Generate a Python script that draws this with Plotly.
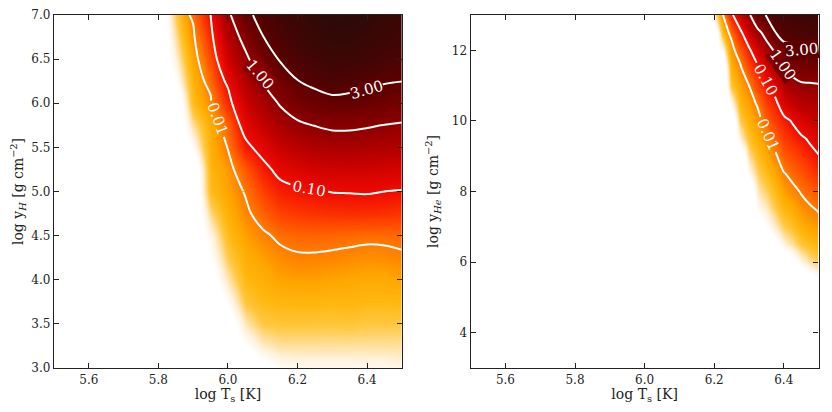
import numpy as np
import plotly.graph_objects as go

SERIF = "DejaVu Serif"

# ============================================================================
# DATA  (log10 of the mapped quantity)
# ============================================================================

LEFT_T = [5.80, 5.85, 5.90, 5.95, 6.00, 6.05, 6.10, 6.15, 6.20, 6.25, 6.30, 6.35, 6.40, 6.45, 6.50]
LEFT_Y = [3.00, 3.25, 3.50, 3.75, 4.00, 4.25, 4.50, 4.75, 5.00, 5.25, 5.50, 5.75, 6.00, 6.25, 6.50, 6.75, 7.00]
LEFT_LOGQ = [
    [-5, -5, -5, -5, -5, -5, -4.6, -4.2, -4.1, -4.1, -4.1, -4.1, -4.1, -4.1, -4.0],
    [-5, -5, -5, -5, -5, -4.3, -3.8, -3.6, -3.6, -3.6, -3.6, -3.6, -3.6, -3.6, -3.6],
    [-5, -5, -5, -5, -4.8, -3.7, -3.25, -3.2, -3.2, -3.2, -3.22, -3.2, -3.25, -3.25, -3.25],
    [-5, -5, -5, -5, -4.2, -3.2, -2.95, -2.85, -2.82, -2.82, -2.87, -2.83, -2.9, -2.9, -2.88],
    [-5, -5, -5, -4.7, -3.7, -2.9, -2.7, -2.5, -2.45, -2.45, -2.5, -2.55, -2.6, -2.6, -2.5],
    [-5, -5, -5, -4.3, -3.3, -2.7, -2.45, -2.2, -2.08, -2.08, -2.12, -2.2, -2.25, -2.22, -2.12],
    [-5, -5, -5, -4.0, -3.0, -2.45, -2.12, -1.90, -1.83, -1.815, -1.833, -1.85, -1.89, -1.88, -1.845],
    [-5, -5, -5, -3.5, -2.75, -2.15, -1.8, -1.52, -1.43, -1.38, -1.35, -1.34, -1.33, -1.36, -1.4],
    [-5, -5, -5, -3.0, -2.5, -1.96, -1.5, -1.2, -1.1, -1.03, -0.99, -0.98, -0.97, -1.0, -1.03],
    [-5, -5, -5, -2.85, -2.35, -1.68, -1.17, -0.88, -0.77, -0.68, -0.64, -0.63, -0.64, -0.67, -0.7],
    [-5, -5, -4.2, -2.7, -1.98, -1.13, -0.86, -0.58, -0.43, -0.33, -0.29, -0.29, -0.31, -0.34, -0.37],
    [-5, -5, -3.6, -2.65, -1.78, -0.86, -0.56, -0.27, -0.1, 0.01, 0.06, 0.06, 0.03, -0.01, -0.05],
    [-5, -5, -3.0, -2.15, -1.26, -0.61, -0.27, 0.03, 0.22, 0.33, 0.40, 0.39, 0.34, 0.28, 0.24],
    [-5, -4.3, -2.8, -1.83, -0.92, -0.36, 0.02, 0.27, 0.47, 0.54, 0.58, 0.56, 0.54, 0.5, 0.48],
    [-5, -3.9, -2.55, -1.55, -0.65, -0.1, 0.23, 0.5, 0.58, 0.62, 0.66, 0.65, 0.63, 0.6, 0.57],
    [-5, -3.6, -2.2, -1.28, -0.4, 0.12, 0.47, 0.58, 0.64, 0.69, 0.71, 0.71, 0.69, 0.66, 0.63],
    [-5, -3.3, -1.9, -1.0, -0.15, 0.40, 0.56, 0.63, 0.68, 0.72, 0.74, 0.74, 0.72, 0.69, 0.66],
]

RIGHT_T = [6.175, 6.200, 6.225, 6.250, 6.275, 6.300, 6.325, 6.350, 6.375, 6.400, 6.425, 6.450, 6.475, 6.500]
RIGHT_Y = [5.0, 5.5, 6.0, 6.5, 7.0, 7.5, 8.0, 8.5, 9.0, 9.5, 10.0, 10.5, 11.0, 11.5, 12.0, 12.5, 13.0]
RIGHT_LOGQ = [
    [-5, -5, -5, -5, -5, -5, -5, -5, -5, -5, -5, -5, -5, -5],
    [-5, -5, -5, -5, -5, -5, -5, -5, -5, -5, -5, -5, -4.7, -4.3],
    [-5, -5, -5, -5, -5, -5, -5, -5, -5, -5, -4.6, -4.0, -3.6, -3.35],
    [-5, -5, -5, -5, -5, -5, -5, -5, -4.5, -3.9, -3.6, -3.2, -2.98, -2.8],
    [-5, -5, -5, -5, -5, -5, -5, -4.3, -3.8, -3.3, -3.1, -2.7, -2.5, -2.35],
    [-5, -5, -5, -5, -5, -5, -4.1, -3.8, -3.3, -2.85, -2.65, -2.3, -2.1, -1.95],
    [-5, -5, -5, -5, -5, -5, -3.7, -3.4, -2.95, -2.45, -2.2, -1.96, -1.8, -1.65],
    [-5, -5, -5, -5, -5, -4.1, -3.35, -3.0, -2.55, -2.05, -1.86, -1.68, -1.5, -1.33],
    [-5, -5, -5, -5, -5, -3.55, -3.0, -2.6, -2.15, -1.72, -1.58, -1.42, -1.22, -1.03],
    [-5, -5, -5, -5, -3.9, -3.1, -2.65, -2.2, -1.8, -1.45, -1.3, -1.1, -0.93, -0.79],
    [-5, -5, -5, -5, -3.3, -2.75, -2.3, -1.8, -1.45, -1.18, -0.96, -0.75, -0.65, -0.55],
    [-5, -5, -5, -4.1, -2.85, -2.4, -1.93, -1.45, -1.17, -0.75, -0.55, -0.4, -0.35, -0.3],
    [-5, -5, -5, -3.2, -2.55, -2.0, -1.5, -1.12, -0.8, -0.35, -0.2, -0.08, -0.06, -0.04],
    [-5, -5, -5, -2.75, -2.15, -1.55, -1.15, -0.73, -0.38, 0.03, 0.14, 0.22, 0.23, 0.25],
    [-5, -5, -4.0, -2.35, -1.7, -1.15, -0.65, -0.28, 0.05, 0.42, 0.42, 0.46, 0.475, 0.49],
    [-5, -5, -2.9, -1.85, -1.2, -0.62, -0.15, 0.14, 0.47, 0.53, 0.56, 0.58, 0.59, 0.6],
    [-5, -3.8, -2.05, -1.15, -0.6, -0.08, 0.3, 0.49, 0.6, 0.62, 0.64, 0.66, 0.67, 0.68],
]

CONTOUR_LEVELS = [0.01, 0.1, 1.0, 3.0]

X_TICKS = [5.6, 5.8, 6.0, 6.2, 6.4]
LEFT_Y_TICKS = [3.0, 3.5, 4.0, 4.5, 5.0, 5.5, 6.0, 6.5, 7.0]
RIGHT_Y_TICKS = [4, 6, 8, 10, 12]

# ============================================================================
# COLOUR MAP  (white -> gold -> orange -> red -> near black, on log10 scale)
# ============================================================================

ZMIN, ZMAX = -4.3, 0.75
CMAP_STOPS = [-4.3, -3.9, -3.6, -3.25, -2.9, -2.5, -2.0, -1.5, -1.0, -0.5, 0.0, 0.48, 0.75]
CMAP_COLORS = ["#FFFFFF", "#FFF3DF", "#FFE0A0", "#FFC840", "#FFB810", "#FFA500",
               "#FF7A00", "#FF4000", "#F00A00", "#C00000", "#8C0000", "#5C0000", "#2C0A08"]
COLORSCALE = [[(v - ZMIN) / (ZMAX - ZMIN), c] for v, c in zip(CMAP_STOPS, CMAP_COLORS)]

LABEL_SIZE = 15

# left panel: which levels get plotly's own inline label, and on which rows
# (0.01 only on its steep upper branch, 0.10 on the whole line)
LEFT_AUTO_LABEL_ROW = {0.01: 8, 0.1: 0}

# labels put by hand where plotly cannot fit one (short or corner lines);
# bg is the local map colour so the line is broken under the text
MANUAL_LABELS = [
    dict(ax="x", ay="y", x=6.090, y=6.326, angle=50, text="1.00", bg="#8A0000"),
    dict(ax="x", ay="y", x=6.397, y=6.154, angle=-16, text="3.00", bg="#5D0000"),
    dict(ax="x2", ay="y2", x=6.395, y=11.60, angle=55, text="1.00", bg="#7A0000"),
    dict(ax="x2", ay="y2", x=6.452, y=12.02, angle=-5, text="3.00", bg="#5D0000"),
]
RIGHT_AUTO_LABELLED = [0.01, 0.1]


def contour_line(x, y, q, lvl, labels, xa, ya):
    return go.Contour(
        x=x, y=y, z=q, autocontour=False,
        contours=dict(start=lvl, end=lvl, size=1, coloring="lines",
                      showlabels=labels, labelformat=".2f",
                      labelfont=dict(family=SERIF, size=LABEL_SIZE, color="white")),
        colorscale=[[0, "white"], [1, "white"]],
        line=dict(width=2, smoothing=1),
        showscale=False, hoverinfo="skip", xaxis=xa, yaxis=ya
    )


def add_heat(fig, x, y, logq, xa, ya):
    fig.add_trace(go.Heatmap(
        x=x, y=y, z=logq, zsmooth="best",
        colorscale=COLORSCALE, zmin=ZMIN, zmax=ZMAX,
        showscale=False, hoverinfo="skip", xaxis=xa, yaxis=ya
    ))


fig = go.Figure()

# ---- left panel
add_heat(fig, LEFT_T, LEFT_Y, LEFT_LOGQ, "x", "y")
xl = np.array(LEFT_T)
yl = np.array(LEFT_Y)
ql = 10 ** np.array(LEFT_LOGQ, dtype=float)
for lvl in CONTOUR_LEVELS:
    i = LEFT_AUTO_LABEL_ROW.get(lvl)
    if i is None:
        fig.add_trace(contour_line(xl, yl, ql, lvl, False, "x", "y"))
    elif i == 0:
        fig.add_trace(contour_line(xl, yl, ql, lvl, True, "x", "y"))
    else:
        fig.add_trace(contour_line(xl, yl[i:], ql[i:, :], lvl, True, "x", "y"))
        fig.add_trace(contour_line(xl, yl[:i + 1], ql[:i + 1, :], lvl, False, "x", "y"))

# ---- right panel
add_heat(fig, RIGHT_T, RIGHT_Y, RIGHT_LOGQ, "x2", "y2")
qr = 10 ** np.array(RIGHT_LOGQ, dtype=float)
for lvl in CONTOUR_LEVELS:
    fig.add_trace(contour_line(RIGHT_T, RIGHT_Y, qr, lvl, lvl in RIGHT_AUTO_LABELLED, "x2", "y2"))

for lab in MANUAL_LABELS:
    fig.add_annotation(
        x=lab["x"], y=lab["y"], xref=lab["ax"], yref=lab["ay"], text=lab["text"],
        showarrow=False, textangle=lab["angle"], bgcolor=lab["bg"], borderpad=0,
        font=dict(family=SERIF, size=LABEL_SIZE, color="white")
    )

axis_style = dict(
    showline=True, linecolor="#222222", linewidth=1.4, mirror="ticks",
    ticks="inside", ticklen=5, tickwidth=1.2, tickcolor="#222222",
    showgrid=False, zeroline=False, ticklabeloverflow="allow",
    tickfont=dict(family=SERIF, size=12, color="#222222"),
)

# page body keeps an 8 px margin, so the figure is 16 px smaller than the window
fig.update_layout(
    width=816, height=396,
    margin=dict(l=0, r=0, t=4, b=33),
    paper_bgcolor="white", plot_bgcolor="white",
    font=dict(family=SERIF, size=12, color="#222222"),
    showlegend=False,
    xaxis=dict(domain=[0.0506, 0.4795], range=[5.5, 6.5], anchor="y",
               tickvals=X_TICKS, ticktext=[f"{v:.1f}" for v in X_TICKS],
               title=dict(text="log T<sub>s</sub> [K]", standoff=8), **axis_style),
    yaxis=dict(domain=[0, 1], range=[3, 7], anchor="x",
               tickvals=LEFT_Y_TICKS, ticktext=[f"{v:.1f}" for v in LEFT_Y_TICKS],
               title=dict(text="log y<sub><i>H</i></sub> [g cm<sup>\u22122</sup>]", standoff=14),
               **axis_style),
    xaxis2=dict(domain=[0.5643, 0.9933], range=[5.5, 6.5], anchor="y2",
                tickvals=X_TICKS, ticktext=[f"{v:.1f}" for v in X_TICKS],
                title=dict(text="log T<sub>s</sub> [K]", standoff=8), **axis_style),
    yaxis2=dict(domain=[0, 1], range=[3, 13], anchor="x2",
                tickvals=RIGHT_Y_TICKS, ticktext=[str(v) for v in RIGHT_Y_TICKS],
                title=dict(text="log y<sub><i>He</i></sub> [g cm<sup>\u22122</sup>]", standoff=9),
                **axis_style),
)

fig.write_html("out.html")
